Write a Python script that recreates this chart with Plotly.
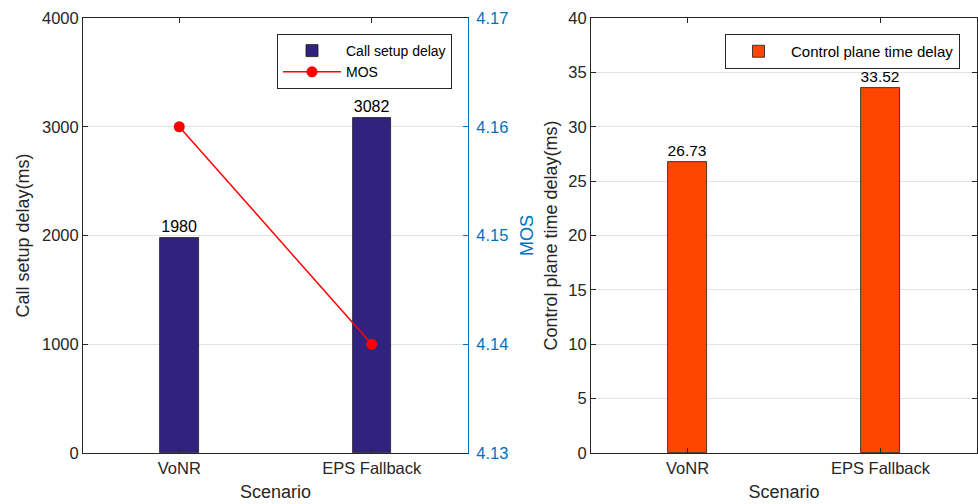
import plotly.graph_objects as go

scenarios = ["VoNR", "EPS Fallback"]
call_setup_delay = [1980, 3082]
mos = [4.16, 4.14]
control_plane_delay = [26.73, 33.52]
call_labels = ["1980", "3082"]
cp_labels = ["26.73", "33.52"]

W, H = 978, 504
def px(x):
    return x / W
def py(y):
    return 1 - y / H

FONT = "Liberation Sans, Arial, Helvetica, sans-serif"
DARK = "#262626"
BLUE = "#0072BD"
GRID = "#E3E3E3"
xpos = [1, 2]

fig = go.Figure()
fig.add_trace(go.Bar(
    x=xpos, y=call_setup_delay, width=0.2, name="Call setup delay",
    marker=dict(color="#31227F", line=dict(color="#1a1a1a", width=0.8)),
    text=call_labels, textposition="outside", cliponaxis=False,
    textfont=dict(size=16, color="#000000", family=FONT),
    xaxis="x", yaxis="y", legend="legend",
))
fig.add_trace(go.Scatter(
    x=xpos, y=mos, name="MOS", mode="lines+markers",
    line=dict(color="#FF0000", width=1.5),
    marker=dict(color="#FF0000", size=11),
    xaxis="x", yaxis="y2", legend="legend",
))
fig.add_trace(go.Bar(
    x=xpos, y=control_plane_delay, width=0.2, name="Control plane time delay",
    marker=dict(color="#FF4500", line=dict(color="#1a1a1a", width=0.8)),
    text=cp_labels, textposition="outside", cliponaxis=False,
    textfont=dict(size=16, color="#000000", family=FONT),
    xaxis="x2", yaxis="y3", legend="legend2",
))

ydom = [py(453), py(18)]
axis_common = dict(ticks="inside", ticklen=5, tickcolor=DARK, linecolor=DARK,
                   linewidth=1, showline=True, automargin=False,
                   tickfont=dict(size=16.5, color=DARK, family=FONT))

fig.update_layout(
    width=W, height=H, margin=dict(l=0, r=0, t=0, b=0),
    paper_bgcolor="white", plot_bgcolor="white",
    font=dict(family=FONT, color=DARK),
    bargap=0,
    xaxis=dict(domain=[px(83), px(468)], range=[0.5, 2.5], tickvals=xpos,
               ticktext=scenarios, mirror="ticks", showgrid=False, zeroline=False,
               title=dict(text="Scenario", font=dict(size=18, color=DARK), standoff=9),
               anchor="y", **axis_common),
    yaxis=dict(domain=ydom, range=[0, 4000], tickvals=[0, 1000, 2000, 3000, 4000],
               showgrid=True, gridcolor=GRID, zeroline=False, anchor="x",
               title=dict(text="Call setup delay(ms)", font=dict(size=18, color=DARK), standoff=7),
               **axis_common),
    yaxis2=dict(domain=ydom, range=[4.13, 4.17], overlaying="y", side="right", anchor="x",
                tickvals=[4.13, 4.14, 4.15, 4.16, 4.17], tickformat=".2f",
                showgrid=False, zeroline=False, showline=True, linecolor=BLUE, linewidth=1,
                ticks="inside", ticklen=5, tickcolor=BLUE, automargin=False,
                ticklabelstandoff=4,
                tickfont=dict(size=16.5, color=BLUE, family=FONT),
                title=dict(text="MOS", font=dict(size=18, color=BLUE), standoff=12)),
    xaxis2=dict(domain=[px(591), px(977)], range=[0.5, 2.5], tickvals=xpos,
                ticktext=scenarios, mirror="ticks", showgrid=False, zeroline=False,
                title=dict(text="Scenario", font=dict(size=18, color=DARK), standoff=9),
                anchor="y3", **axis_common),
    yaxis3=dict(domain=ydom, range=[0, 40], tickvals=list(range(0, 41, 5)),
                mirror="ticks", showgrid=True, gridcolor=GRID, zeroline=False, anchor="x2",
                title=dict(text="Control plane time delay(ms)", font=dict(size=18, color=DARK), standoff=6),
                **axis_common),
    legend=dict(x=px(452), y=py(34), xanchor="right", yanchor="top",
                bgcolor="white", bordercolor=DARK, borderwidth=1,
                font=dict(size=14, color="#000000", family=FONT),
                tracegroupgap=0, itemwidth=58),
    legend2=dict(x=px(960), y=py(34), xanchor="right", yanchor="top",
                 bgcolor="white", bordercolor=DARK, borderwidth=1,
                 font=dict(size=15, color="#000000", family=FONT), itemwidth=55),
)

fig.write_html("out.html", config={"displayModeBar": False},
               post_script="document.body.style.margin='0px';")
